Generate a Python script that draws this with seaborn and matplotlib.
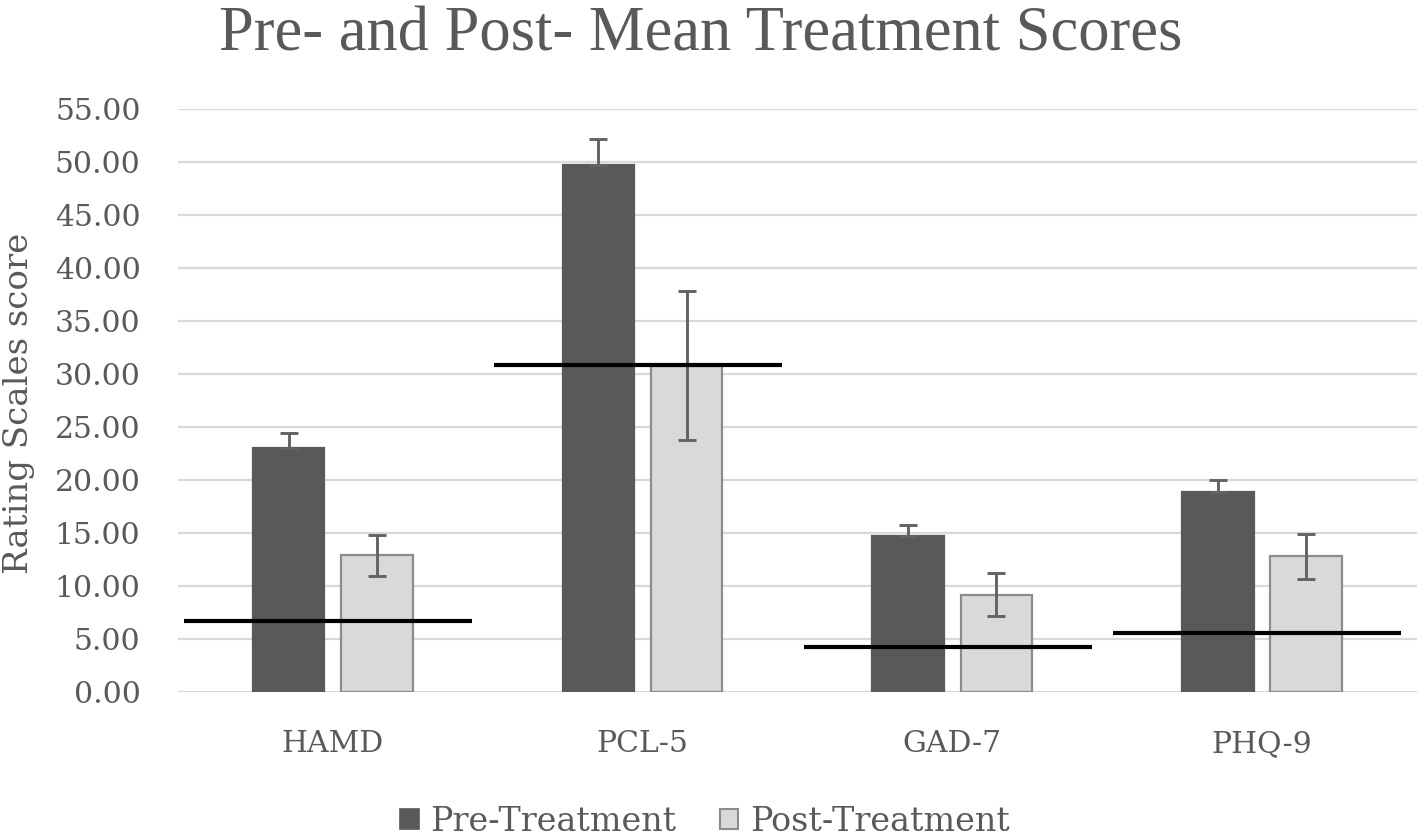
import matplotlib
matplotlib.use("Agg")
import matplotlib.pyplot as plt
import seaborn as sns
import pandas as pd
from matplotlib.patches import Patch

categories = ["HAMD", "PCL-5", "GAD-7", "PHQ-9"]
groups = ["Pre-Treatment", "Post-Treatment"]
pre_means = [23.0, 49.7, 14.7, 18.9]
pre_err = [1.4, 2.5, 1.1, 1.1]
post_means = [12.9, 30.8, 9.2, 12.8]
post_err = [1.9, 7.0, 2.0, 2.1]
cutoffs = [6.7, 30.9, 4.3, 5.6]
yticks = [0, 5, 10, 15, 20, 25, 30, 35, 40, 45, 50, 55]

def main():
    df = pd.DataFrame({
        "scale": categories * 2,
        "group": [groups[0]] * 4 + [groups[1]] * 4,
        "score": pre_means + post_means,
    })

    sns.set_theme(style="white")
    plt.rcParams["font.family"] = ["DejaVu Serif", "DejaVu Sans"]
    text_col = "#595959"

    fig = plt.figure(figsize=(14.24, 8.36), dpi=100)
    ax = fig.add_axes([0.125, 0.172, 0.870, 0.6976])

    palette = {groups[0]: "#595959", groups[1]: "#d9d9d9"}
    sns.barplot(data=df, x="scale", y="score", hue="group", order=categories,
                hue_order=groups, palette=palette, width=0.57, gap=0.19,
                errorbar=None, legend=False, ax=ax, zorder=2)

    # post bars have a grey outline
    for cont, ec in zip(ax.containers, ["#595959", "#8c8c8c"]):
        for bar in cont:
            bar.set_edgecolor(ec)
            bar.set_linewidth(1.6)

    # error bars (pre: only the upper half shows above the dark bar)
    err_sets = [[[0] * len(pre_err), pre_err], post_err]
    for cont, errs in zip(ax.containers, err_sets):
        xs = [b.get_x() + b.get_width() / 2 for b in cont]
        ys = [b.get_height() for b in cont]
        ax.errorbar(xs, ys, yerr=errs, fmt="none", ecolor="#636363",
                    elinewidth=2.1, capsize=6.8, capthick=2.1, zorder=3)

    # cutoff lines
    for i, c in enumerate(cutoffs):
        ax.plot([i - 0.48, i + 0.45], [c, c], color="black", lw=3, zorder=4,
                solid_capstyle="butt")

    ax.set_ylim(0, 55)
    ax.set_xlim(-0.5, 3.5)
    ax.set_yticks(yticks)
    ax.set_yticklabels([f"{v:.2f}" for v in yticks])
    ax.yaxis.grid(True, color="#d9d9d9", lw=1.6, zorder=0)
    ax.set_axisbelow(True)
    for s in ax.spines.values():
        s.set_visible(False)
    ax.tick_params(axis="y", length=0, pad=27, labelsize=21.5, labelcolor=text_col)
    ax.tick_params(axis="x", length=0, pad=27, labelsize=21.5, labelcolor=text_col)
    ax.set_xlabel("")
    ax.set_ylabel("")

    fig.text(19 / 1424, 1 - 403 / 836, "Rating Scales score", rotation=90,
             ha="center", va="center", fontsize=24.5, color=text_col)
    fig.text(0.492, 0.958, "Pre- and Post- Mean Treatment Scores", ha="center",
             va="center", fontsize=45, color=text_col, family="Liberation Serif")

    handles = [Patch(facecolor="#595959", edgecolor="#595959", lw=1.2),
               Patch(facecolor="#d9d9d9", edgecolor="#8c8c8c", lw=1.5)]
    leg = fig.legend(handles, groups, loc="center", bbox_to_anchor=(0.495, 0.017),
                     ncol=2, frameon=False, fontsize=24, handlelength=0.55,
                     handleheight=0.55, handletextpad=0.35, columnspacing=1.3)
    for t in leg.get_texts():
        t.set_color(text_col)

    fig.savefig("out.png", dpi=100)

if __name__ == "__main__":
    main()
